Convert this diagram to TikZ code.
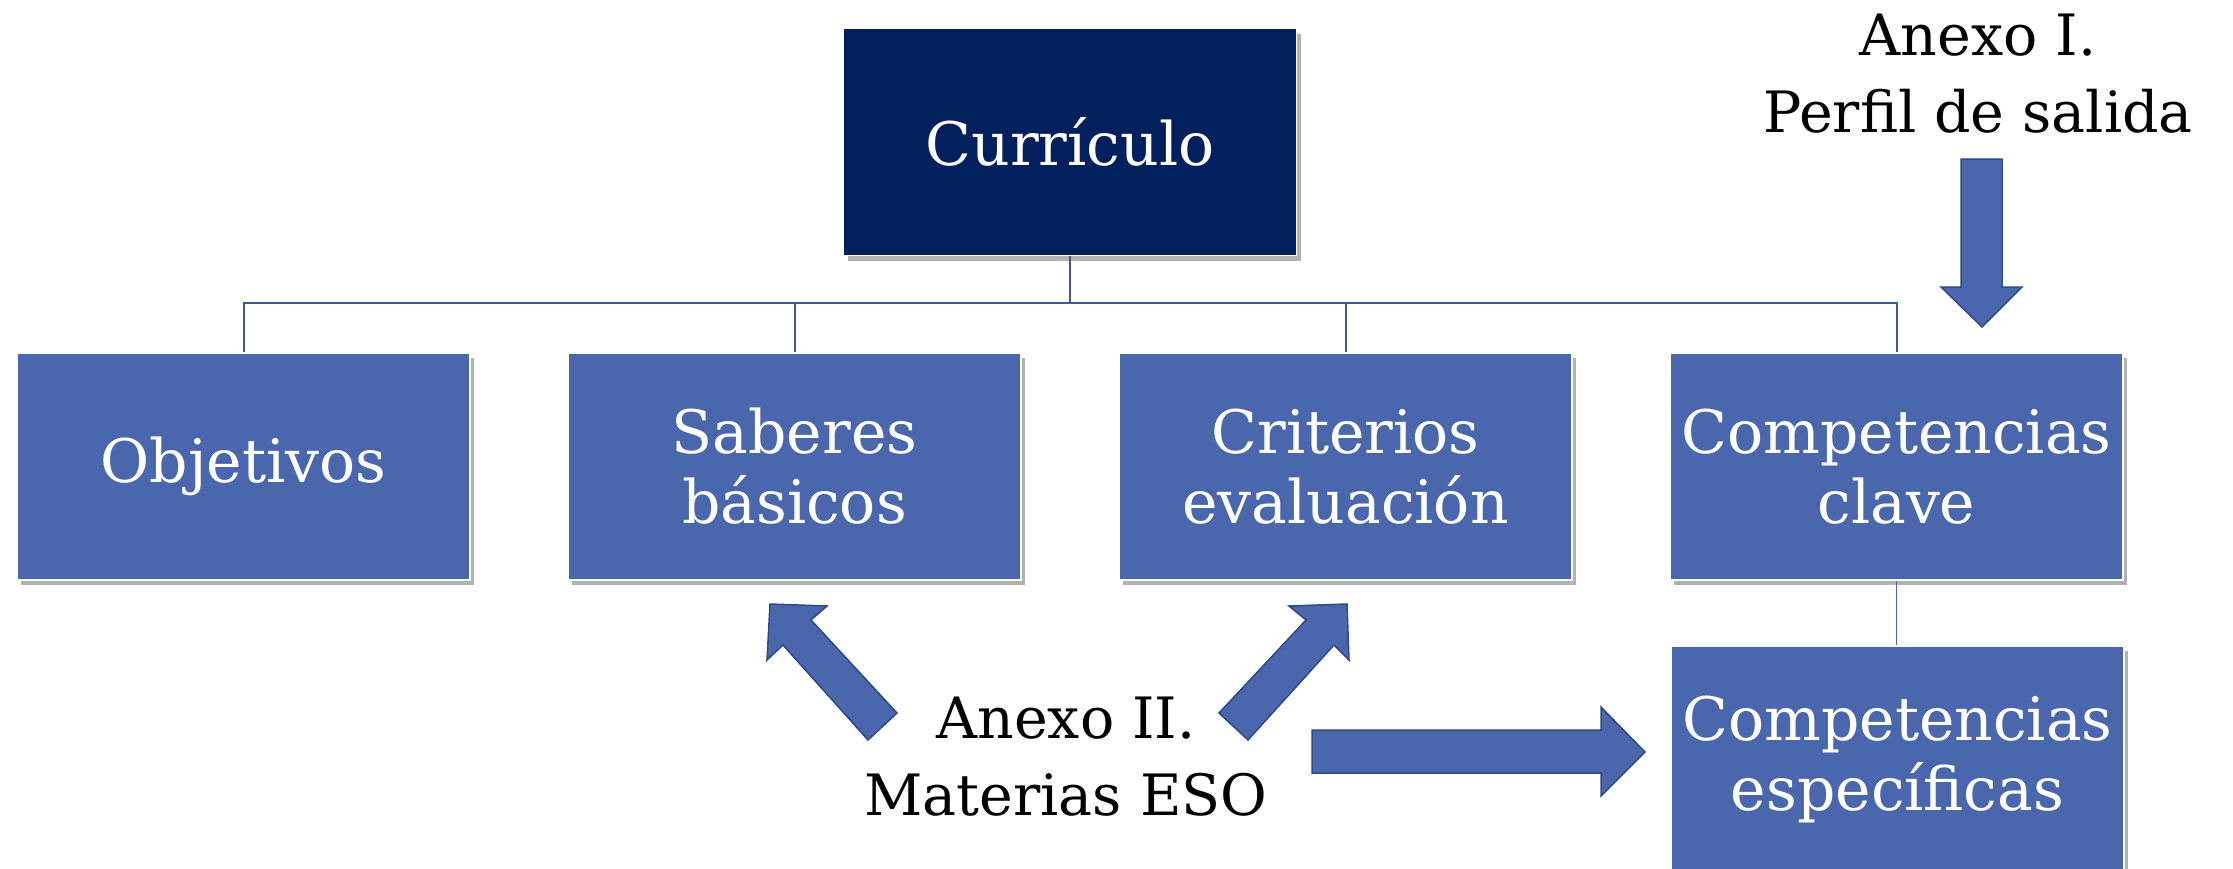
\documentclass[tikz,border=0pt]{standalone}
\usepackage{fontspec}
\setmainfont{DejaVu Serif}
\usetikzlibrary{shadows}
\definecolor{navy}{HTML}{03205E}
\definecolor{boxblue}{HTML}{4A67AE}
\definecolor{linkblue}{HTML}{3E5897}
\definecolor{arrowedge}{HTML}{2F4A85}
\begin{document}
\begin{tikzpicture}[x=1pt,y=-1pt,
  box/.style={draw=white, line width=1.5pt, fill=boxblue, text=white,
    minimum width=453pt, minimum height=227pt, inner sep=0pt, align=center,
    font=\fontsize{60}{70}\selectfont,
    drop shadow={shadow xshift=4pt, shadow yshift=-5pt, fill=black, opacity=0.3}},
  topbox/.style={box, fill=navy},
  link/.style={draw=linkblue, line width=2pt},
  thinlink/.style={draw=boxblue, line width=1.2pt},
  blockarrow/.style={fill=boxblue, draw=arrowedge, line width=1.5pt, line join=miter},
  annot/.style={align=center, font=\fontsize{57}{77}\selectfont, text=black, inner sep=0pt}
]
\clip (0,0) rectangle (2233,868);
\fill[white] (0,0) rectangle (2233,868);

% boxes
\node[topbox] (cur) at (1070,142) {Currículo};
\node[box] (obj) at (243.5,466.5) {Objetivos};
\node[box] (sab) at (794.5,466.5) {Saberes\\básicos};
\node[box] (cri) at (1345.5,466.5) {Criterios\\evaluación};
\node[box] (cla) at (1896.5,466.5) {Competencias\\clave};
\node[box, anchor=north] (esp) at (1897.5,645) {Competencias\\específicas};

% tree connectors
\coordinate (bus) at (1070,303);
\draw[link] (cur.south) -- (bus);
\draw[link] (bus) -| (obj.north);
\draw[link] (bus) -| (sab.north);
\draw[link] (bus) -| (cri.north);
\draw[link] (bus) -| (cla.north);
\draw[thinlink] (cla.south) -- (cla.south |- esp.north);

% annotations
\node[annot] (anx2) at (1066,757) {Anexo II.\\Materias ESO};
\node[annot] (anx1) at (1978,74) {Anexo I.\\Perfil de salida};

% block arrows
\draw[blockarrow] (770,604) -- (827,606) -- (811,620) -- (897,713) -- (868,740) -- (783,645) -- (767,660) -- cycle;
\draw[blockarrow] (1347,604) -- (1289,606) -- (1306,620) -- (1219,713) -- (1248,740) -- (1334,645) -- (1349,660) -- cycle;
\draw[blockarrow] (1312,730) -- (1601,730) -- (1601,707) -- (1645,752) -- (1601,796) -- (1601,773) -- (1312,773) -- cycle;
\draw[blockarrow] (1961,159) -- (2002,159) -- (2002,287) -- (2022,287) -- (1982,327) -- (1941,287) -- (1961,287) -- cycle;
\end{tikzpicture}
\end{document}
